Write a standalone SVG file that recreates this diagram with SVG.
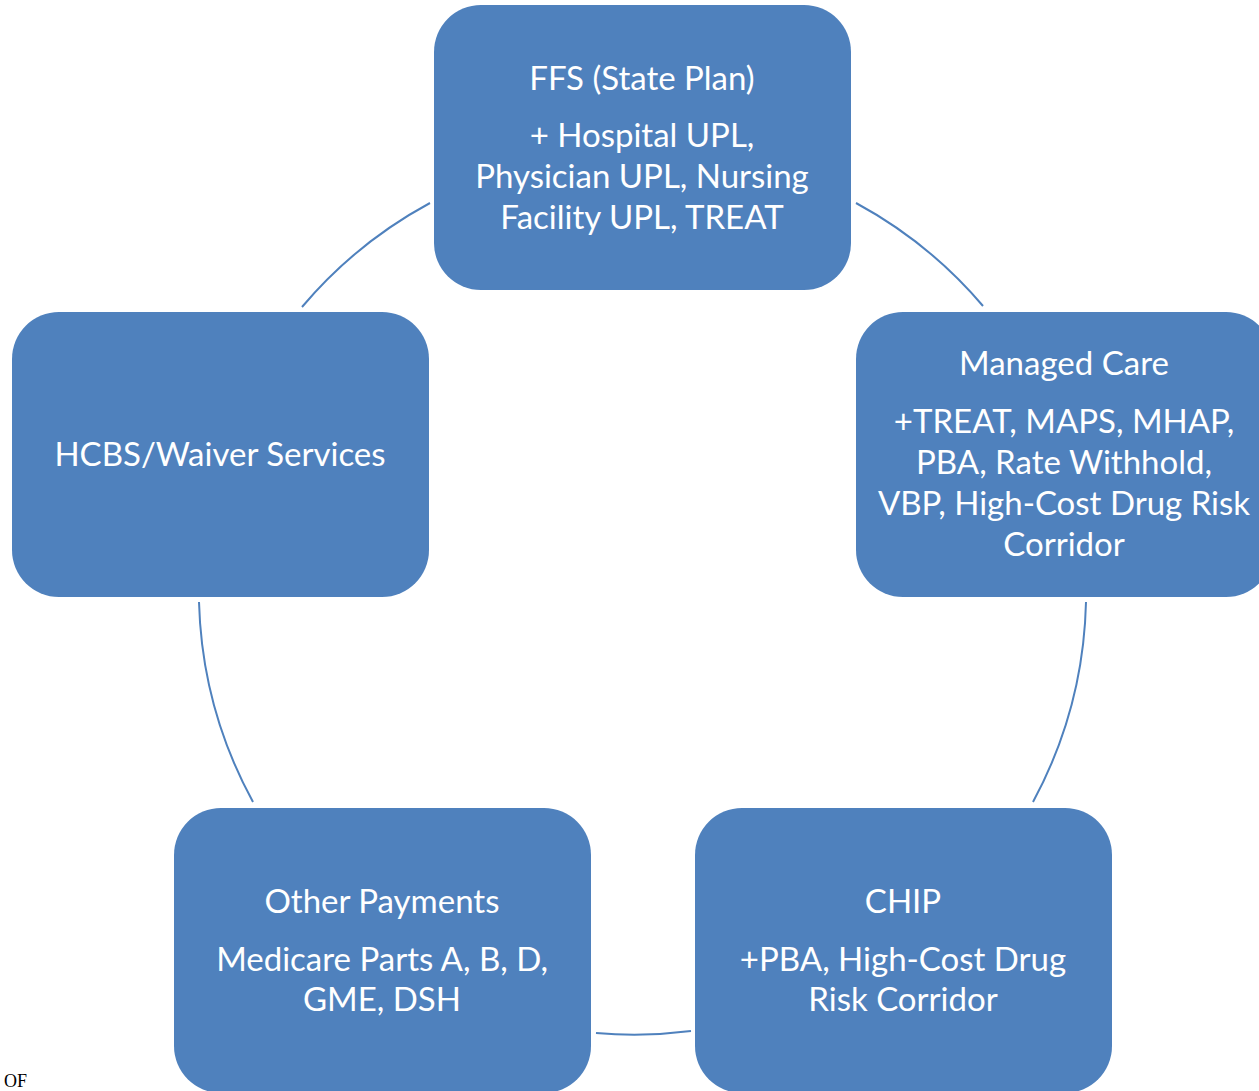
<svg xmlns="http://www.w3.org/2000/svg" width="1259" height="1091" viewBox="0 0 1259 1091">
<style>
.box{fill:#4f81bd;}
.t{fill:#ffffff;font-family:Lato,"Open Sans",sans-serif;font-size:33px;text-anchor:middle;}
.arc{fill:none;stroke:#4f81bd;stroke-width:2;}
.of{fill:#000;font-family:"Liberation Serif",serif;font-size:18px;}
</style>
<rect width="1259" height="1091" fill="#ffffff"/>
<g id="connectors">
<path class="arc" d="M856,203 A443,443 0 0 1 983,306"/>
<path class="arc" d="M1086,602 A443,443 0 0 1 1033,802"/>
<path class="arc" d="M691,1031 A443,443 0 0 1 596,1033"/>
<path class="arc" d="M253,802 A443,443 0 0 1 199,602"/>
<path class="arc" d="M302,307 A443,443 0 0 1 430,203"/>
</g>
<g id="ffs">
<rect class="box" x="434" y="5" width="417" height="285" rx="47"/>
<text class="t" x="642" y="90">FFS (State Plan)</text>
<text class="t" x="642" y="147">+ Hospital UPL,</text>
<text class="t" x="642" y="188">Physician UPL, Nursing</text>
<text class="t" x="642" y="229">Facility UPL, TREAT</text>
</g>
<g id="managed-care">
<rect class="box" x="856" y="312" width="417" height="285" rx="47"/>
<text class="t" x="1064" y="375">Managed Care</text>
<text class="t" x="1064" y="433">+TREAT, MAPS, MHAP,</text>
<text class="t" x="1064" y="474">PBA, Rate Withhold,</text>
<text class="t" x="1064" y="515">VBP, High-Cost Drug Risk</text>
<text class="t" x="1064" y="556">Corridor</text>
</g>
<g id="chip">
<rect class="box" x="695" y="808" width="417" height="285" rx="47"/>
<text class="t" x="903" y="913">CHIP</text>
<text class="t" x="903" y="971">+PBA, High-Cost Drug</text>
<text class="t" x="903" y="1011">Risk Corridor</text>
</g>
<g id="other-payments">
<rect class="box" x="174" y="808" width="417" height="285" rx="47"/>
<text class="t" x="382" y="913">Other Payments</text>
<text class="t" x="382" y="971">Medicare Parts A, B, D,</text>
<text class="t" x="382" y="1011">GME, DSH</text>
</g>
<g id="hcbs">
<rect class="box" x="12" y="312" width="417" height="285" rx="47"/>
<text class="t" x="220" y="466">HCBS/Waiver Services</text>
</g>
<text class="of" x="4" y="1087">OF</text>
</svg>
